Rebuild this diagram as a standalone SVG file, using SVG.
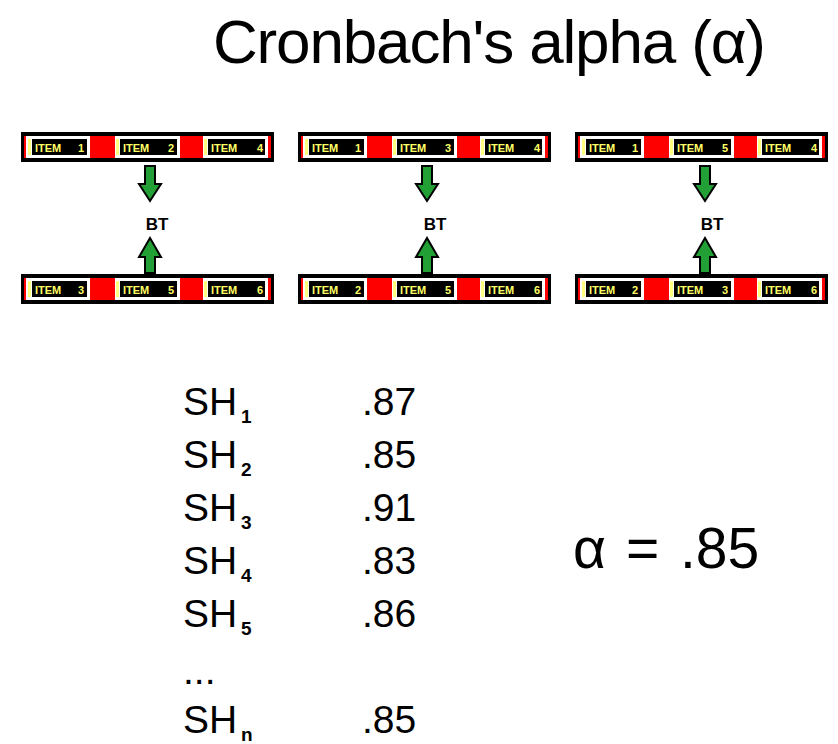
<svg xmlns="http://www.w3.org/2000/svg" xmlns:xlink="http://www.w3.org/1999/xlink" width="838" height="744" viewBox="0 0 838 744">
<style>
.title{font-family:"Liberation Sans",Arial,sans-serif;font-size:62px;fill:#000}
.big{font-family:"Liberation Sans",Arial,sans-serif;font-size:39px;fill:#000}
.sub{font-family:"Liberation Sans",Arial,sans-serif;font-size:19px;font-weight:bold;fill:#000}
.alpha{font-family:"Liberation Sans",Arial,sans-serif;font-size:57px;fill:#000}
.item{font-family:"Liberation Sans",Arial,sans-serif;font-size:11px;font-weight:bold;fill:#ffff66}
.lbl{font-family:"Liberation Sans",Arial,sans-serif;font-size:17px;font-weight:bold;fill:#000;text-anchor:middle}
.arrow{fill:#22a035;stroke:#000;stroke-width:2}
</style>
<defs>
<g id="barBase">
<rect x="0" y="0" width="253" height="30" fill="#000"/>
<rect x="3" y="4" width="247" height="22" fill="#f00"/>
<rect x="5" y="4" width="64" height="22" fill="#fff"/>
<rect x="94" y="4" width="65" height="22" fill="#fff"/>
<rect x="182" y="4" width="65" height="22" fill="#fff"/>
<rect x="7" y="7" width="3" height="16" fill="#ffff80"/>
<rect x="95" y="7" width="3" height="16" fill="#ffff80"/>
<rect x="183" y="7" width="3" height="16" fill="#ffff80"/>
<rect x="11" y="7" width="55" height="16" fill="#000"/>
<rect x="99" y="7" width="57" height="16" fill="#000"/>
<rect x="187" y="7" width="57" height="16" fill="#000"/>
</g>
<polygon id="down" class="arrow" points="-5,0 5,0 5,18 11,18 0,35 -11,18 -5,18"/>
<polygon id="up" class="arrow" points="-5,36 5,36 5,20 11,20 0,1 -11,20 -5,20"/>
</defs>

<g id="title"><text class="title" x="213" y="63" textLength="553">Cronbach's alpha (α)</text></g>

<g id="bar1top" transform="translate(21,132)">
<use xlink:href="#barBase"/>
<text class="item" x="14" y="20">ITEM</text><text class="item" x="57" y="20">1</text>
<text class="item" x="102" y="20">ITEM</text><text class="item" x="147" y="20">2</text>
<text class="item" x="190" y="20">ITEM</text><text class="item" x="236" y="20">4</text>
</g>
<g id="bar1bot" transform="translate(21,274)">
<use xlink:href="#barBase"/>
<text class="item" x="14" y="20">ITEM</text><text class="item" x="57" y="20">3</text>
<text class="item" x="102" y="20">ITEM</text><text class="item" x="147" y="20">5</text>
<text class="item" x="190" y="20">ITEM</text><text class="item" x="236" y="20">6</text>
</g>
<g id="bar2top" transform="translate(298,132)">
<use xlink:href="#barBase"/>
<text class="item" x="14" y="20">ITEM</text><text class="item" x="57" y="20">1</text>
<text class="item" x="102" y="20">ITEM</text><text class="item" x="147" y="20">3</text>
<text class="item" x="190" y="20">ITEM</text><text class="item" x="236" y="20">4</text>
</g>
<g id="bar2bot" transform="translate(298,274)">
<use xlink:href="#barBase"/>
<text class="item" x="14" y="20">ITEM</text><text class="item" x="57" y="20">2</text>
<text class="item" x="102" y="20">ITEM</text><text class="item" x="147" y="20">5</text>
<text class="item" x="190" y="20">ITEM</text><text class="item" x="236" y="20">6</text>
</g>
<g id="bar3top" transform="translate(575,132)">
<use xlink:href="#barBase"/>
<text class="item" x="14" y="20">ITEM</text><text class="item" x="57" y="20">1</text>
<text class="item" x="102" y="20">ITEM</text><text class="item" x="147" y="20">5</text>
<text class="item" x="190" y="20">ITEM</text><text class="item" x="236" y="20">4</text>
</g>
<g id="bar3bot" transform="translate(575,274)">
<use xlink:href="#barBase"/>
<text class="item" x="14" y="20">ITEM</text><text class="item" x="57" y="20">2</text>
<text class="item" x="102" y="20">ITEM</text><text class="item" x="147" y="20">3</text>
<text class="item" x="190" y="20">ITEM</text><text class="item" x="236" y="20">6</text>
</g>

<g id="label1"><text class="lbl" x="157" y="230">BT</text></g>
<g id="label2"><text class="lbl" x="435" y="230">BT</text></g>
<g id="label3"><text class="lbl" x="712" y="230">BT</text></g>

<g id="connectors">
<use xlink:href="#down" x="150" y="166"/>
<use xlink:href="#up" x="150" y="237"/>
<use xlink:href="#down" x="427" y="166"/>
<use xlink:href="#up" x="427" y="237"/>
<use xlink:href="#down" x="705" y="166"/>
<use xlink:href="#up" x="705" y="237"/>
</g>

<g id="table">
<text class="big" x="183" y="415">SH</text><text class="sub" x="241" y="423">1</text><text class="big" x="362" y="415">.87</text>
<text class="big" x="183" y="468">SH</text><text class="sub" x="241" y="476">2</text><text class="big" x="362" y="468">.85</text>
<text class="big" x="183" y="521">SH</text><text class="sub" x="241" y="529">3</text><text class="big" x="362" y="521">.91</text>
<text class="big" x="183" y="574">SH</text><text class="sub" x="241" y="582">4</text><text class="big" x="362" y="574">.83</text>
<text class="big" x="183" y="627">SH</text><text class="sub" x="241" y="635">5</text><text class="big" x="362" y="627">.86</text>
<text class="big" x="183" y="684">...</text>
<text class="big" x="183" y="733">SH</text><text class="sub" x="241" y="741">n</text><text class="big" x="362" y="733">.85</text>
</g>

<g id="result">
<text class="alpha" x="573" y="568">α</text>
<text class="alpha" x="626" y="568">=</text>
<text class="alpha" x="680" y="568">.85</text>
</g>
</svg>
